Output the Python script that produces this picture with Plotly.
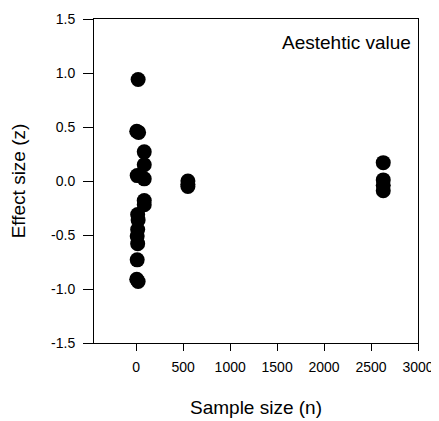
import plotly.graph_objects as go

# Data
sample_size = [20, 5, 25, 10, 15, 20, 15, 10, 15, 10, 5, 20,
               85, 85, 85, 85, 85,
               550, 550, 550,
               2630, 2630, 2630, 2630]
effect_size = [0.94, 0.46, 0.45, 0.05, -0.31, -0.36, -0.45, -0.51, -0.58, -0.73, -0.91, -0.93,
               0.27, 0.15, 0.02, -0.18, -0.22,
               0.0, -0.03, -0.05,
               0.17, 0.01, -0.04, -0.09]

x_ticks = [0, 500, 1000, 1500, 2000, 2500, 3000]
y_ticks = [-1.5, -1.0, -0.5, 0.0, 0.5, 1.0, 1.5]
y_ticklabels = ["-1.5", "-1.0", "-0.5", "0.0", "0.5", "1.0", "1.5"]

FONT = "Arial, Liberation Sans, sans-serif"

fig = go.Figure()
fig.add_trace(go.Scatter(
    x=sample_size, y=effect_size, mode="markers",
    marker=dict(size=15, color="black", line=dict(width=0)),
    showlegend=False, cliponaxis=False,
))

# The page body adds an 8px offset; margins compensate so the plot box lands where the reference has it.
fig.update_layout(
    width=431, height=413,
    margin=dict(l=86, r=21, t=11, b=78),
    paper_bgcolor="white", plot_bgcolor="white",
    font=dict(family=FONT, size=14, color="black"),
    annotations=[dict(
        text="Aestehtic value", x=0.985, y=0.926, xref="paper", yref="paper",
        xanchor="right", yanchor="middle", showarrow=False,
        font=dict(family=FONT, size=19, color="black"),
    )],
)

fig.update_xaxes(
    range=[-450, 3000], tickmode="array", tickvals=x_ticks,
    ticks="outside", ticklen=7, tickwidth=1, tickcolor="black",
    showline=True, linecolor="black", linewidth=1, mirror=True,
    showgrid=False, zeroline=False, automargin=False,
    tickfont=dict(size=14), ticklabelstandoff=4,
    title=dict(text="Sample size (n)", font=dict(size=19), standoff=26),
)
fig.update_yaxes(
    range=[-1.5, 1.5], tickmode="array", tickvals=y_ticks, ticktext=y_ticklabels,
    ticks="outside", ticklen=10, tickwidth=1, tickcolor="black",
    showline=True, linecolor="black", linewidth=1, mirror=True,
    showgrid=False, zeroline=False, automargin=False,
    tickfont=dict(size=14), ticklabelstandoff=5,
    title=dict(text="Effect size (z)", font=dict(size=19), standoff=34),
)

fig.write_html("out.html")
